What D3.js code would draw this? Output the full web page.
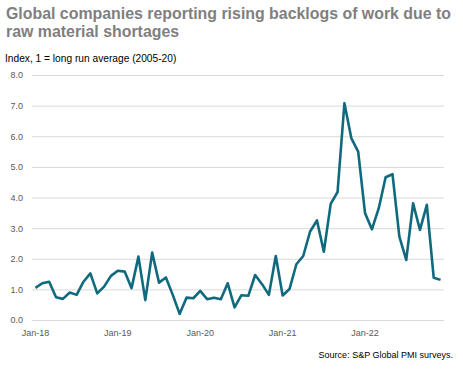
<!DOCTYPE html>
<html><head><meta charset="utf-8">
<script src="https://cdn.jsdelivr.net/npm/d3@7"></script>
<style>body{margin:0;background:#fff}svg{display:block}</style>
</head><body>
<svg id="c" width="463" height="370"></svg>
<script>
const title = ["Global companies reporting rising backlogs of work due to", "raw material shortages"];
const subtitle = "Index, 1 = long run average (2005-20)";
const source = "Source: S&P Global PMI surveys.";
const years = ["18","19","20","21","22"];
const monthNames = ["Jan","Feb","Mar","Apr","May","Jun","Jul","Aug","Sep","Oct","Nov","Dec"];
const categories = years.flatMap(y => monthNames.map(m => m + "-" + y));
const xTickLabels = ["Jan-18","Jan-19","Jan-20","Jan-21","Jan-22"];
const yTicks = [0,1,2,3,4,5,6,7,8];
const values = [
  1.05,1.20,1.25,0.74,0.69,0.90,0.82,1.25,1.52,0.87,1.09,1.44,
  1.61,1.58,1.04,2.07,0.65,2.20,1.22,1.39,0.82,0.20,0.73,0.71,
  0.95,0.68,0.73,0.68,1.20,0.41,0.81,0.79,1.47,1.17,0.82,2.09,
  0.80,1.01,1.82,2.09,2.89,3.25,2.23,3.79,4.18,7.08,5.94,5.50,
  3.49,2.96,3.65,4.66,4.76,2.72,1.96,3.81,2.94,3.76,1.38,1.31
];

const svg = d3.select("#c");
const mLeft = 32, mRight = 444, mTop = 75, mBottom = 320;

const x = d3.scaleBand().domain(categories).range([mLeft, mRight]);
const y = d3.scaleLinear().domain([0, 8]).range([mBottom, mTop]);

svg.selectAll(".title").data(title).join("text")
  .attr("x", 6).attr("y", (d,i) => 19 + i*17.5)
  .attr("font-family", "Liberation Sans, Arial, sans-serif")
  .attr("font-weight", "bold").attr("font-size", 15.9)
  .attr("fill", "#7f7f7f").text(d => d);

svg.append("text").attr("x", 5).attr("y", 62)
  .attr("font-family", "Liberation Sans, Arial, sans-serif")
  .attr("font-size", 10.2).attr("fill", "#000").text(subtitle);

const yAxis = d3.axisLeft(y).tickValues(yTicks).tickFormat(d3.format(".1f"))
  .tickSize(-(mRight - mLeft)).tickPadding(9);
const gy = svg.append("g").attr("transform", `translate(${mLeft},0)`).call(yAxis);
gy.select(".domain").remove();
gy.selectAll(".tick line").attr("stroke", "#d9d9d9").attr("stroke-width", 1);
gy.selectAll(".tick text").attr("font-family", "Liberation Sans, Arial, sans-serif")
  .attr("font-size", 9).attr("fill", "#595959");

const xAxis = d3.axisBottom(x).tickValues(xTickLabels).tickSize(0).tickPadding(10);
const gx = svg.append("g").attr("transform", `translate(0,${mBottom})`).call(xAxis);
gx.select(".domain").remove();
gx.selectAll(".tick text").attr("font-family", "Liberation Sans, Arial, sans-serif")
  .attr("font-size", 9).attr("fill", "#595959");

const line = d3.line()
  .x((d,i) => x(categories[i]) + x.bandwidth()/2)
  .y(d => y(d));
svg.append("path").datum(values).attr("d", line)
  .attr("fill", "none").attr("stroke", "#0f6a7e").attr("stroke-width", 2.6)
  .attr("stroke-linejoin", "round");

svg.append("text").attr("x", 453).attr("y", 358).attr("text-anchor", "end")
  .attr("font-family", "Liberation Sans, Arial, sans-serif")
  .attr("font-size", 9).attr("fill", "#000").text(source);
</script>
</body></html>
